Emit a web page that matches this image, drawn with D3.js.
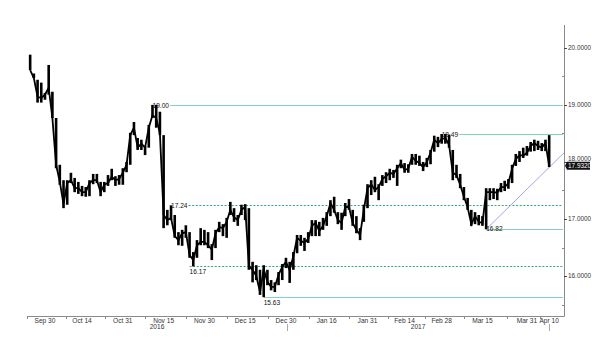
<!DOCTYPE html>
<html>
<head>
<meta charset="utf-8">
<script src="https://cdn.jsdelivr.net/npm/d3@7"></script>
<style>
  body { margin: 0; background: #fff; }
  svg { display: block; font-family: "Liberation Sans", Arial, sans-serif; }
</style>
</head>
<body>
<svg id="chart" width="600" height="354"></svg>
<script>
// daily bars, one per trading day starting Mon 26 Sep 2016
const FIRST_DAY = '2016-09-26';
const highs = [
  19.88, 19.55, 19.44, 19.39, 19.21, 19.70, 19.23, 18.77, 17.95, 17.68,
  17.68, 17.81, 17.72, 17.65, 17.58, 17.56, 17.68, 17.79, 17.79, 17.65,
  17.65, 17.77, 17.88, 17.75, 17.77, 17.89, 18.00, 18.51, 18.70, 18.42,
  18.39, 18.28, 18.65, 19.00, 19.00, 18.88, 18.47, 17.16, 17.24, 17.07,
  16.77, 16.81, 16.89, 16.77, 16.42, 16.63, 16.84, 16.81, 16.77, 16.56,
  16.81, 16.95, 16.91, 17.02, 17.30, 17.19, 17.07, 17.25, 17.26, 17.19,
  16.25, 16.19, 16.11, 16.19, 16.11, 15.93, 15.89, 16.07, 16.21, 16.32,
  16.25, 16.42, 16.72, 16.72, 16.67, 16.77, 16.98, 16.98, 16.95, 17.02,
  17.12, 17.33, 17.39, 17.12, 17.11, 17.28, 17.35, 17.16, 17.05, 16.84,
  17.25, 17.61, 17.68, 17.74, 17.61, 17.77, 17.82, 17.88, 17.86, 17.95,
  18.04, 17.98, 17.96, 18.14, 18.14, 18.11, 18.00, 18.07, 18.21, 18.46,
  18.44, 18.49, 18.49, 18.48, 18.21, 17.95, 17.79, 17.56, 17.37, 17.16,
  17.12, 17.07, 17.05, 17.54, 17.54, 17.54, 17.53, 17.63, 17.67, 17.70,
  17.95, 18.14, 18.19, 18.25, 18.28, 18.35, 18.39, 18.37, 18.33, 18.39,
  18.47
];
const lows = [
  19.61, 19.47, 19.04, 19.04, 19.09, 19.18, 18.77, 17.89, 17.60, 17.19,
  17.25, 17.63, 17.47, 17.44, 17.40, 17.39, 17.40, 17.61, 17.63, 17.40,
  17.47, 17.58, 17.68, 17.58, 17.60, 17.60, 17.82, 17.95, 18.47, 18.21,
  18.21, 18.12, 18.25, 18.77, 18.60, 18.47, 16.84, 16.89, 16.98, 16.67,
  16.54, 16.53, 16.67, 16.32, 16.17, 16.32, 16.54, 16.54, 16.49, 16.28,
  16.49, 16.77, 16.70, 16.67, 17.07, 16.95, 16.88, 17.07, 16.98, 16.11,
  15.89, 15.93, 15.67, 15.63, 15.84, 15.75, 15.72, 15.84, 15.93, 16.14,
  15.88, 16.11, 16.40, 16.53, 16.44, 16.58, 16.70, 16.70, 16.70, 16.81,
  16.88, 17.05, 17.11, 16.91, 16.81, 17.05, 17.16, 16.88, 16.75, 16.63,
  16.95, 17.19, 17.42, 17.47, 17.33, 17.58, 17.63, 17.68, 17.72, 17.58,
  17.89, 17.81, 17.81, 17.95, 17.95, 17.93, 17.84, 17.91, 17.96, 18.18,
  18.26, 18.32, 18.32, 18.25, 17.68, 17.72, 17.54, 17.33, 17.16, 16.88,
  16.91, 16.89, 16.88, 16.82, 17.33, 17.35, 17.33, 17.47, 17.49, 17.53,
  17.63, 17.93, 18.00, 18.07, 18.11, 18.18, 18.19, 18.21, 18.19, 18.19,
  17.91
];
const closes = [
  19.61, 19.47, 19.14, 19.12, 19.18, 19.30, 18.77, 17.95, 17.65, 17.26,
  17.63, 17.68, 17.54, 17.54, 17.47, 17.47, 17.63, 17.68, 17.68, 17.47,
  17.60, 17.63, 17.74, 17.68, 17.70, 17.81, 17.95, 18.47, 18.60, 18.25,
  18.32, 18.25, 18.60, 18.82, 18.77, 18.50, 17.07, 16.98, 17.02, 16.70,
  16.63, 16.75, 16.77, 16.37, 16.28, 16.54, 16.60, 16.60, 16.54, 16.46,
  16.75, 16.86, 16.84, 16.95, 17.16, 17.03, 16.98, 17.16, 17.21, 16.18,
  16.11, 16.00, 15.72, 16.12, 15.90, 15.81, 15.81, 16.02, 16.16, 16.25,
  16.10, 16.35, 16.67, 16.62, 16.58, 16.65, 16.88, 16.93, 16.79, 16.88,
  17.05, 17.28, 17.16, 16.98, 16.93, 17.21, 17.21, 16.93, 16.81, 16.72,
  17.16, 17.54, 17.61, 17.51, 17.56, 17.70, 17.75, 17.81, 17.79, 17.89,
  17.98, 17.86, 17.88, 18.09, 18.02, 17.98, 17.91, 18.00, 18.16, 18.39,
  18.33, 18.40, 18.42, 18.30, 17.81, 17.77, 17.60, 17.39, 17.21, 16.91,
  17.05, 16.95, 16.93, 17.47, 17.47, 17.47, 17.46, 17.56, 17.56, 17.63,
  17.88, 18.05, 18.12, 18.11, 18.16, 18.28, 18.33, 18.28, 18.25, 18.33,
  17.932
];

const dateTicks = [
  ['2016-09-30', 'Sep 30'], ['2016-10-14', 'Oct 14'], ['2016-10-31', 'Oct 31'],
  ['2016-11-15', 'Nov 15'], ['2016-11-30', 'Nov 30'], ['2016-12-15', 'Dec 15'],
  ['2016-12-30', 'Dec 30'], ['2017-01-16', 'Jan 16'], ['2017-01-31', 'Jan 31'],
  ['2017-02-14', 'Feb 14'], ['2017-02-28', 'Feb 28'], ['2017-03-15', 'Mar 15'],
  ['2017-03-31', 'Mar 31'], ['2017-04-10', 'Apr 10']
];
const years = ['2016', '2017'];
const yTicks = [16, 17, 18, 19, 20];
const yMinorTicks = [15.5, 16.5, 17.5, 18.5, 19.5];

// support / resistance marks: [value, from date, style, label placement]
const levels = [
  [19.00, '2016-11-10', 'solid', 'lead'],
  [18.49, '2017-02-28', 'solid', 'lead'],
  [17.24, '2016-11-17', 'dash', 'lead'],
  [16.17, '2016-11-24', 'dash', 'below'],
  [15.63, '2016-12-22', 'solid', 'below'],
  [16.82, '2017-03-16', 'solid', 'over']
];
const trend = [['2017-03-16', 16.82], ['2017-04-14', 18.16]];
const lastPrice = 17.932;

const parse = d3.timeParse('%Y-%m-%d');
const ORIGIN = parse('2016-09-30'); // a Friday, trading index 0

// weekday count from ORIGIN (weekends skipped)
function tradeIdx(date) {
  const days = Math.round((date - ORIGIN) / 864e5);
  const weeks = Math.floor(days / 7);
  const rem = days - weeks * 7;
  return weeks * 5 + (rem <= 2 ? 0 : rem - 2);
}
const firstIdx = tradeIdx(parse(FIRST_DAY));

const svg = d3.select('#chart');
const plot = { left: 27, right: 564, top: 25, bottom: 316 };

const x = d3.scaleLinear().domain([-4.85, 140]).range([plot.left, plot.right]);
const y = d3.scaleLinear().domain([15.3, 20.4]).range([plot.bottom, plot.top]);

const solidColor = '#7fd6b0';
const dashColor = '#2fab79';

const gLevels = svg.append('g');
const gLabels = svg.append('g');

// level lines + labels
levels.forEach(([value, from, style, place]) => {
  const x0 = x(tradeIdx(parse(from)));
  const yy = Math.round(y(value)) + 0.5;
  const label = gLabels.append('text')
    .attr('x', x0)
    .attr('font-size', 6.6)
    .attr('fill', '#111')
    .text(value.toFixed(2));
  let lineStart = x0;
  if (place === 'lead') {
    label.attr('y', yy + 2);
    lineStart = x0 + label.node().getComputedTextLength() + 1;
  } else if (place === 'below') {
    label.attr('y', yy + 7);
  } else {
    label.attr('y', yy + 1.5);
  }
  gLevels.append('line')
    .attr('x1', lineStart).attr('x2', plot.right - 1)
    .attr('y1', yy).attr('y2', yy)
    .attr('stroke', style === 'dash' ? dashColor : solidColor)
    .attr('stroke-width', 1)
    .attr('stroke-dasharray', style === 'dash' ? '2,1.6' : null);
});

// trend line
svg.append('line')
  .attr('x1', x(tradeIdx(parse(trend[0][0])))).attr('y1', y(trend[0][1]))
  .attr('x2', x(tradeIdx(parse(trend[1][0])))).attr('y2', y(trend[1][1]))
  .attr('stroke', '#a6a6dc')
  .attr('stroke-width', 1);

// price bars
const bars = highs.map((h, i) => ({ i: firstIdx + i, h, l: lows[i], c: closes[i] }));
svg.append('g').selectAll('rect')
  .data(bars)
  .join('rect')
  .attr('x', (d) => x(d.i) - 1.3)
  .attr('width', 2.6)
  .attr('y', (d) => y(d.h))
  .attr('height', (d) => Math.max(1, y(d.l) - y(d.h)))
  .attr('fill', '#000');

svg.append('path')
  .datum(bars)
  .attr('d', d3.line().x((d) => x(d.i)).y((d) => y(d.c)))
  .attr('fill', 'none')
  .attr('stroke', '#000')
  .attr('stroke-width', 1.8);

// labels sit above the price bars
gLabels.raise();

// axes
const axisColor = '#8a8a8a';
svg.append('line')
  .attr('x1', plot.left).attr('x2', plot.right + 0.5)
  .attr('y1', plot.bottom + 0.5).attr('y2', plot.bottom + 0.5)
  .attr('stroke', axisColor);
svg.append('line')
  .attr('x1', plot.right + 0.5).attr('x2', plot.right + 0.5)
  .attr('y1', plot.top).attr('y2', plot.bottom + 0.5)
  .attr('stroke', axisColor);

const tickIdx = dateTicks.map(([d]) => tradeIdx(parse(d)));
const minor = [x.domain()[0]];
tickIdx.forEach((t, k) => {
  if (k < tickIdx.length - 1) minor.push((t + tickIdx[k + 1]) / 2 + 0.6);
});
svg.append('g').selectAll('line')
  .data(minor)
  .join('line')
  .attr('x1', (d) => Math.round(x(d)) + 0.5).attr('x2', (d) => Math.round(x(d)) + 0.5)
  .attr('y1', plot.bottom).attr('y2', plot.bottom + 3)
  .attr('stroke', axisColor);

svg.append('g').selectAll('text')
  .data(dateTicks)
  .join('text')
  .attr('x', (d) => x(tradeIdx(parse(d[0]))))
  .attr('y', 323)
  .attr('text-anchor', 'middle')
  .attr('font-size', 6.6)
  .attr('fill', '#333')
  .text((d) => d[1]);

// year row
const yearEdge = x(tradeIdx(parse('2016-12-30')) + 0.3);
const lastX = x(firstIdx + closes.length - 1);
const yearSpans = [[plot.left, yearEdge], [yearEdge, lastX]];
svg.append('g').selectAll('text')
  .data(years)
  .join('text')
  .attr('x', (d, k) => (yearSpans[k][0] + yearSpans[k][1]) / 2)
  .attr('y', 329)
  .attr('text-anchor', 'middle')
  .attr('font-size', 6.6)
  .attr('fill', '#333')
  .text((d) => d);
svg.append('g').selectAll('line')
  .data([yearEdge, lastX])
  .join('line')
  .attr('x1', (d) => Math.round(d) + 0.5).attr('x2', (d) => Math.round(d) + 0.5)
  .attr('y1', 324).attr('y2', 331)
  .attr('stroke', '#aaa');

// y axis ticks + labels; 18.0000 sits just above the price tag
svg.append('g').selectAll('line')
  .data(yTicks)
  .join('line')
  .attr('x1', plot.right).attr('x2', plot.right + 3)
  .attr('y1', (d) => Math.round(y(d)) + 0.5).attr('y2', (d) => Math.round(y(d)) + 0.5)
  .attr('stroke', '#444');
svg.append('g').selectAll('line')
  .data(yMinorTicks)
  .join('line')
  .attr('x1', plot.right - 2).attr('x2', plot.right)
  .attr('y1', (d) => Math.round(y(d)) + 0.5).attr('y2', (d) => Math.round(y(d)) + 0.5)
  .attr('stroke', axisColor);
const ly = y(lastPrice);
svg.append('g').selectAll('text')
  .data(yTicks)
  .join('text')
  .attr('x', plot.right + 4)
  .attr('y', (d) => Math.min(y(d) + 2.3, d === 18 ? ly - 4.6 : Infinity))
  .attr('font-size', 6.4)
  .attr('fill', '#333')
  .text((d) => d3.format('.4f')(d));

// last price tag
svg.append('path')
  .attr('d', `M${plot.right + 1},${ly} L${plot.right + 3},${ly - 4} H${plot.right + 26} V${ly + 4} H${plot.right + 3} Z`)
  .attr('fill', '#111');
svg.append('text')
  .attr('x', plot.right + 4)
  .attr('y', ly + 2.3)
  .attr('font-size', 6.4)
  .attr('fill', '#fff')
  .text(d3.format('.4f')(lastPrice));
</script>
</body>
</html>
